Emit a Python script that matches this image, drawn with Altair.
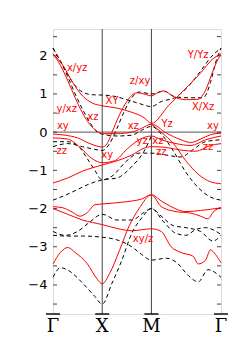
import altair as alt
import pandas as pd

# High-symmetry points (path coordinate) and labels
sym_k = [0.0, 1.0, 2.0, 3.414]
sym_lbl = ["Γ", "X", "M", "Γ"]
y_ticks = [-4, -3, -2, -1, 0, 1, 2]
minor_ticks = [-4.5, -4, -3.5, -3, -2.5, -2, -1.5, -1, -0.5, 0, 0.5, 1, 1.5, 2, 2.5]

# Red (solid) bands: k values and energies
r1_k = [0, 0.2, 0.4, 0.6, 0.8, 1.0, 1.3, 1.6, 1.85, 2.0, 2.35, 2.7, 3.0, 3.25, 3.414]
r1_e = [2.05, 1.75, 1.3, 0.95, 0.76, 0.69, 0.63, 0.52, 0.38, 0.23, 0.7, 1.15, 1.55, 1.92, 2.05]
r2_k = [0, 0.15, 0.3, 0.45, 0.6, 0.75, 0.9, 1.0, 1.3, 1.6, 1.8, 2.0, 2.3, 2.6, 2.8, 3.05, 3.25, 3.414]
r2_e = [2.05, 1.75, 1.35, 0.9, 0.5, 0.2, 0.02, -0.04, -0.04, 0.0, 0.1, 0.21, -0.02, -0.2, -0.27, -0.15, -0.05, -0.03]
r3_k = [0, 0.25, 0.5, 0.75, 1.0, 1.1, 1.2, 1.35, 1.5, 1.7, 1.85, 2.0, 2.15, 2.25, 2.45, 2.7, 2.95, 3.1, 3.25, 3.35, 3.414]
r3_e = [-0.05, -0.08, -0.15, -0.3, -0.39, -0.3, 0.0, 0.45, 0.8, 1.03, 1.0, 0.95, 1.05, 1.08, 0.93, 0.85, 0.86, 1.1, 1.6, 1.9, 2.02]
r4_k = [0, 0.3, 0.55, 0.8, 1.0, 1.25, 1.5, 1.75, 2.0, 2.2, 2.5, 2.8, 3.1, 3.414]
r4_e = [-0.15, -0.18, -0.4, -0.7, -0.8, -0.75, -0.45, -0.2, -0.1, -0.2, -0.3, -0.35, -0.2, -0.1]
r5_k = [0, 0.3, 0.6, 1.0, 1.3, 1.6, 1.85, 2.0, 2.3, 2.6, 2.9, 3.2, 3.414]
r5_e = [-1.33, -1.2, -1.02, -0.86, -0.75, -0.6, -0.42, -0.38, -0.4, -0.47, -0.5, -0.35, -0.3]
r6_k = [2.0, 2.2, 2.45, 2.7, 2.95, 3.2, 3.414]
r6_e = [0.21, 0.0, -0.3, -0.75, -1.1, -1.3, -1.35]
r7_k = [0, 0.2, 0.4, 0.55, 0.7, 0.85, 1.0, 1.5, 1.8, 2.0, 2.2, 2.4, 2.7, 3.0, 3.414]
r7_e = [-1.95, -1.98, -2.1, -2.2, -2.1, -1.9, -1.88, -1.82, -1.75, -1.64, -1.8, -1.95, -2.08, -2.05, -1.98]
r8_k = [0, 0.3, 0.6, 1.0, 1.3, 1.6, 2.0, 2.2, 2.4, 2.6, 2.85, 2.95, 3.1, 3.2, 3.3, 3.414]
r8_e = [-2.0, -2.15, -2.3, -2.42, -2.52, -2.58, -2.53, -2.6, -3.0, -3.15, -3.25, -3.45, -3.35, -3.08, -3.2, -3.42]
r9_k = [0, 0.15, 0.3, 0.45, 0.7, 0.9, 1.0, 1.15, 1.35, 1.55, 1.75, 2.0, 2.2, 2.5, 2.8, 3.0, 3.15, 3.25, 3.414]
r9_e = [-3.45, -3.15, -3.02, -3.15, -3.45, -3.85, -3.97, -3.7, -3.1, -2.45, -2.0, -1.64, -1.95, -2.08, -2.12, -2.2, -2.27, -2.1, -1.97]

# Black dashed bands
d1_k = [0, 0.15, 0.3, 0.45, 0.6, 0.75, 0.9, 1.0, 1.3, 1.6, 1.8, 2.0, 2.2, 2.45, 2.7, 2.95, 3.2, 3.414]
d1_e = [2.2, 1.85, 1.45, 1.0, 0.6, 0.25, 0.0, -0.05, -0.1, -0.08, 0.05, 0.15, -0.05, -0.5, -1.05, -1.45, -1.7, -1.78]
d2_k = [0, 0.2, 0.4, 0.6, 0.8, 1.0, 1.2, 1.5, 1.75, 2.0, 2.2, 2.5, 2.75, 3.0, 3.2, 3.414]
d2_e = [2.2, 1.75, 1.3, 1.05, 0.98, 0.97, 0.95, 0.85, 0.75, 0.67, 0.8, 0.92, 1.2, 1.6, 1.95, 2.2]
d3_k = [0, 0.3, 0.6, 0.85, 1.0, 1.15, 1.3, 1.45, 1.6, 1.75, 2.0, 2.25, 2.5, 2.8, 3.05, 3.2, 3.3, 3.414]
d3_e = [-0.38, -0.3, -0.38, -0.45, -0.48, -0.3, 0.1, 0.55, 0.9, 1.05, 1.0, 1.07, 0.92, 0.9, 0.9, 1.3, 1.8, 2.2]
d4_k = [0, 0.3, 0.5, 0.7, 0.85, 1.0, 1.2, 1.5, 1.75, 2.0, 2.3, 2.6, 2.85, 3.1, 3.414]
d4_e = [-0.25, -0.25, -0.35, -0.7, -1.0, -1.25, -1.15, -0.75, -0.55, -0.55, -0.6, -0.65, -0.45, -0.25, -0.2]
d5_k = [0, 0.25, 0.5, 0.75, 1.0, 1.3, 1.6, 1.85, 2.0]
d5_e = [-1.78, -1.65, -1.5, -1.35, -1.25, -1.2, -0.9, -0.5, -0.1]
d6_k = [0, 0.25, 0.5, 0.75, 1.0, 1.3, 1.6, 1.85, 2.0, 2.25, 2.5, 2.7, 2.9, 3.1, 3.414]
d6_e = [-2.6, -2.7, -2.6, -2.35, -2.15, -2.3, -2.3, -2.1, -2.0, -2.35, -2.65, -2.7, -2.55, -2.5, -2.68]
d7_k = [0, 0.3, 0.6, 1.0, 1.3, 1.6, 1.8, 2.0, 2.3, 2.5, 2.75, 2.95, 3.15, 3.414]
d7_e = [-2.7, -2.72, -2.72, -2.75, -2.82, -3.0, -3.2, -3.35, -3.3, -3.4, -3.75, -3.92, -3.6, -3.8]
d8_k = [0, 0.15, 0.35, 0.6, 0.85, 1.0, 1.2, 1.4, 1.6, 1.8, 2.0, 2.2, 2.45, 2.7, 3.0, 3.25, 3.414]
d8_e = [-3.8, -3.55, -3.65, -3.95, -4.3, -4.5, -3.95, -3.35, -2.65, -2.25, -2.0, -2.2, -2.45, -2.5, -2.6, -2.85, -2.7]

# Orbital-character labels
lab_txt = ["x/yz", "y/xz", "xz", "XY", "z/xy", "Y/Yz", "X/Xz", "xy", "xz", "Yz", "xy",
           "zz", "xy", "yz", "xz", "zz", "zz", "xy/z"]
lab_k = [0.49, 0.28, 0.81, 1.2, 1.77, 2.95, 3.05, 0.2, 1.63, 2.32, 3.25,
         0.18, 1.1, 1.81, 2.13, 2.2, 3.15, 1.83]
lab_e = [1.68, 0.61, 0.4, 0.82, 1.34, 2.02, 0.66, 0.16, 0.16, 0.21, 0.16,
         -0.49, -0.6, -0.23, -0.23, -0.52, -0.39, -2.8]

red = {"r1": (r1_k, r1_e), "r2": (r2_k, r2_e), "r3": (r3_k, r3_e), "r4": (r4_k, r4_e),
       "r5": (r5_k, r5_e), "r6": (r6_k, r6_e), "r7": (r7_k, r7_e), "r8": (r8_k, r8_e),
       "r9": (r9_k, r9_e)}
dash = {"d1": (d1_k, d1_e), "d2": (d2_k, d2_e), "d3": (d3_k, d3_e), "d4": (d4_k, d4_e),
        "d5": (d5_k, d5_e), "d6": (d6_k, d6_e), "d7": (d7_k, d7_e), "d8": (d8_k, d8_e)}


def frame(bands):
    rows = []
    for name, (ks, es) in bands.items():
        for k, e in zip(ks, es):
            rows.append({"band": name, "k": k, "E": e})
    return pd.DataFrame(rows)


red_df = frame(red)
dash_df = frame(dash)
lab_df = pd.DataFrame({"t": lab_txt, "k": lab_k, "E": lab_e})
sym_df = pd.DataFrame({"k": sym_k, "lbl": sym_lbl})
tick_df = pd.DataFrame({"E": minor_ticks})

xs = alt.Scale(domain=[0, 3.414], nice=False, zero=False)
ys = alt.Scale(domain=[-4.76, 2.7], nice=False, zero=False)
X = lambda: alt.X("k:Q", scale=xs, axis=None)

base_axis = alt.Chart(pd.DataFrame({"E": y_ticks})).mark_point(opacity=0).encode(
    y=alt.Y("E:Q", scale=ys, title=None,
            axis=alt.Axis(values=y_ticks, ticks=False, domain=False, grid=False,
                          labelPadding=6, labelFontSize=13, labelFont="DejaVu Sans",
                          labelColor="black")),
    x=alt.value(0),
)

zero_line = alt.Chart(pd.DataFrame({"E": [0]})).mark_rule(color="#777", strokeWidth=1.2).encode(
    y=alt.Y("E:Q", scale=ys))

vlines = alt.Chart(sym_df.iloc[1:3]).mark_rule(color="#444", strokeWidth=1).encode(x=X())

tick_l = alt.Chart(tick_df).mark_rule(color="#444", strokeWidth=1).encode(
    y=alt.Y("E:Q", scale=ys), x=alt.value(0), x2=alt.value(4))
tick_r = alt.Chart(tick_df).mark_rule(color="#444", strokeWidth=1).encode(
    y=alt.Y("E:Q", scale=ys), x=alt.value(164), x2=alt.value(168))

dash_lines = alt.Chart(dash_df).mark_line(color="black", strokeWidth=1, strokeDash=[4, 3],
                                          interpolate="monotone").encode(
    x=X(), y=alt.Y("E:Q", scale=ys), detail="band:N")
red_lines = alt.Chart(red_df).mark_line(color="#ff0000", strokeWidth=1,
                                        interpolate="monotone").encode(
    x=X(), y=alt.Y("E:Q", scale=ys), detail="band:N")

labels = alt.Chart(lab_df).mark_text(color="#ff0000", font="DejaVu Sans", fontSize=10).encode(
    x=X(), y=alt.Y("E:Q", scale=ys), text="t:N")

sym_text = alt.Chart(sym_df).mark_text(font="DejaVu Serif", fontSize=18, baseline="bottom",
                                       color="black").encode(
    x=X(), y=alt.value(307), text="lbl:N")
sym_bar = alt.Chart(sym_df).mark_tick(orient="horizontal", color="black", size=14,
                                      thickness=2).encode(
    x=X(), y=alt.value(285))

chart = alt.layer(base_axis, zero_line, vlines, tick_l, tick_r, dash_lines, red_lines,
                  labels, sym_text, sym_bar).properties(
    width=168, height=285,
    padding={"left": 45, "top": 21, "right": 22, "bottom": 23},
    autosize=alt.AutoSizeParams(type="none"),
).configure_view(stroke="#444", strokeWidth=1.2).configure(background="white")

chart.save("out.html", embed_options={"renderer": "svg", "actions": False})
